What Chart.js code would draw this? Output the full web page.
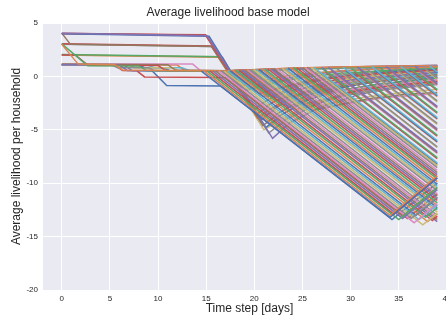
<!DOCTYPE html>
<html>
<head>
<meta charset="utf-8">
<script src="https://cdn.jsdelivr.net/npm/chart.js@4"></script>
<style>
  html, body { margin: 0; padding: 0; background: #fff; overflow: hidden; }
  canvas { display: block; }
</style>
</head>
<body>
<canvas id="myChart" width="462" height="320"></canvas>
<script>
// axis ticks
const xTicks = [0, 5, 10, 15, 20, 25, 30, 35, 40];
const yTicks = [-20, -15, -10, -5, 0, 5];
const lastDay = 39;

// households starting at 4, 3 or 2: [x, y, x, y, ...]
const highStart = [
  [0, 4.05, 15.1, 3.8, 21.9, -5.8, 23.6, -4.4, 26.5, -3.0, 30.5, -1.8, 35, -0.9, 39, -0.4],
  [0, 4.0, 15.3, 3.75, 21.2, -4.8, 22.8, -3.6, 25.5, -2.2, 29.5, -1.0, 34, -0.2, 39, 0.3],
  [0, 4.05, 15.0, 3.85, 20.7, -4.1, 22.3, -2.9, 25, -1.6, 29, -0.5, 34, 0.2, 39, 0.6],
  [0, 4.0, 14.9, 3.9, 20.3, -3.5, 21.8, -2.5, 24.5, -1.3, 28.5, -0.3, 33, 0.35, 39, 0.75],
  [0, 4.05, 0.9, 3.0, 15.6, 2.8, 20.9, -4.6, 22.6, -3.4, 25.5, -2.0, 29.5, -0.9, 34, -0.1, 39, 0.4],
  [0, 3.05, 15.5, 2.85, 20.4, -3.9, 22.1, -2.8, 24.8, -1.6, 28.8, -0.5, 33.5, 0.2, 39, 0.6],
  [0, 3.0, 15.8, 2.8, 21.5, -5.3, 23.2, -4.1, 26.2, -2.7, 30.2, -1.5, 35, -0.6, 39, -0.1],
  [0, 2.05, 16.5, 1.85, 19.8, -3.2, 21.4, -2.2, 24, -1.1, 28, -0.1, 33, 0.5, 39, 0.8],
  [0, 2.0, 16.7, 1.8, 20.3, -3.9, 22, -2.9, 25, -1.7, 29, -0.7, 34, 0.0, 39, 0.4],
  [0, 2.0, 16.2, 1.85, 21.0, -5.0, 22.8, -4.0, 26, -2.6, 30, -1.4, 35, -0.5, 39, 0.0]
];
const highColors = ["#8172B3", "#4C72B0", "#C44E52", "#C44E52", "#937860",
                    "#C44E52", "#8C8C8C", "#55A868", "#DD8452", "#CCB974"];

// households around 1 that step down and stay near the top
const stepLines = [
  [0, 3.0, 1.7, 1.15, 5.5, 1.1, 6.3, 0.6, 17, 0.5, 20, 0.62, 24, 0.78, 30, 0.9, 39, 1.02],
  [0, 3.05, 2.7, 1.0, 8, 0.98, 8.8, 0.55, 17, 0.48, 20, 0.58, 24, 0.72, 30, 0.84, 39, 0.95],
  [0, 2.0, 1.4, 2.0, 2.7, 1.05, 10, 1.02, 10.8, 0.55, 17, 0.5, 21, 0.64, 25, 0.76, 31, 0.88, 39, 0.98],
  [0, 1.1, 6, 1.06, 6.8, 0.56, 17, 0.5, 20, 0.6, 24, 0.74, 30, 0.87, 39, 1.05],
  [0, 1.15, 11, 1.1, 11.8, 0.6, 17, 0.52, 21, 0.66, 26, 0.8, 32, 0.92, 39, 1.0],
  [0, 1.15, 13.6, 1.15, 14.4, 0.55, 17, 0.5, 22, 0.66, 28, 0.8, 34, 0.88, 39, 0.92],
  [0, 1.1, 5.2, 1.06, 5.8, 0.82, 9, 0.8, 9.7, 0.5, 17, 0.48, 20, 0.56, 25, 0.7, 31, 0.8, 39, 0.88],
  [0, 1.1, 7, 1.06, 7.6, 0.82, 11.5, 0.8, 12.2, 0.52, 17, 0.5, 21, 0.6, 26, 0.72, 32, 0.82, 39, 0.9],
  [0, 1.1, 9, 1.05, 9.6, 0.82, 12.5, 0.8, 13.2, 0.55, 17, 0.5, 20.5, 0.58, 25, 0.68, 31, 0.78, 39, 0.85],
  [0, 1.12, 8, 1.08, 8.6, 0.82, 10.5, 0.8, 11.2, 0.55, 17, 0.5, 21, 0.62, 26, 0.75, 33, 0.85, 39, 0.94],
  [0, 1.1, 12, 1.06, 12.7, 0.58, 17, 0.52, 21, 0.6, 25, 0.7, 31, 0.8, 39, 0.86]
];

// two households that dip early
const redDip = [0, 1.1, 5.5, 1.06, 6.3, 0.56, 7.8, 0.52, 8.6, -0.05, 17, -0.1, 35.9, -13.3, 39, -11.0];
const blueDip = [0, 1.1, 6.5, 1.05, 7.3, 0.55, 9.4, 0.5, 10.9, -0.85, 16.5, -0.9, 34.3, -13.4, 39, -10.0];

// early decliners that bottom out and turn: [start day, start value, bottom day, bottom value, value at day 39]
const vLines = [
  [14.5, 0.5, 34.1, -13.2, -9.5],
  [14.8, 0.5, 34.1, -13.0, -9.3],
  [15.1, 0.5, 35.0, -13.4, -10.4],
  [15.4, 0.5, 34.5, -12.9, -9.5],
  [15.7, 0.5, 35.4, -13.3, -10.6],
  [16.0, 0.5, 35.4, -13.1, -10.4],
  [16.3, 0.5, 36.6, -13.7, -11.9],
  [16.6, 0.5, 36.3, -13.3, -11.3],
  [16.9, 0.5, 37.5, -13.9, -12.8],
  [17.2, 0.52, 37.1, -13.4, -12.0],
  [17.5, 0.53, 36.8, -13.0, -11.35],
  [17.8, 0.55, 38.0, -13.6, -12.85],
  [18.1, 0.56, 37.8, -13.2, -12.3],
  [18.4, 0.57, 38.5, -13.5, -13.1]
];

// later decliners: [start day, start value, value at day 39]
const dropLines = [
  [18.75, 0.58, -13.6], [19.0, 0.59, -13.4], [19.3, 0.6, -13.2], [19.6, 0.61, -13.0],
  [19.9, 0.63, -12.7], [20.2, 0.64, -12.5], [20.5, 0.65, -12.3], [20.8, 0.66, -12.1],
  [21.1, 0.68, -11.85], [21.4, 0.69, -11.6], [21.7, 0.7, -11.4], [22.0, 0.71, -11.2],
  [22.3, 0.72, -11.0], [22.6, 0.74, -10.7], [22.9, 0.75, -10.5], [23.2, 0.76, -10.3],
  [23.5, 0.77, -10.1], [23.8, 0.79, -9.85], [24.1, 0.8, -9.6], [24.4, 0.8, -9.4],
  [24.7, 0.81, -9.2], [25.0, 0.81, -9.0], [25.3, 0.82, -8.8], [25.6, 0.82, -8.55],
  [25.9, 0.82, -8.35], [26.2, 0.83, -8.1], [26.5, 0.53, -8.2], [26.8, 0.24, -8.3],
  [27.1, 0.69, -7.6], [27.4, 0.4, -7.7], [27.7, 0.85, -7.05], [28.0, 0.55, -7.15],
  [28.3, 0.26, -7.2], [28.6, 0.71, -6.6], [28.9, 0.42, -6.65], [29.2, 0.87, -6.0],
  [29.5, 0.57, -6.1], [29.8, 0.28, -6.15], [30.1, 0.73, -5.5], [30.4, 0.43, -5.6],
  [30.7, 0.89, -4.9], [31.0, 0.59, -5.0], [31.3, 0.3, -5.1], [31.6, 0.75, -4.4],
  [31.9, 0.45, -4.5], [32.2, 0.91, -3.85], [32.5, 0.61, -3.94], [32.8, 0.31, -4.0],
  [33.1, 0.77, -3.36], [33.4, 0.47, -3.45], [33.7, 0.92, -2.8], [34.0, 0.63, -2.87],
  [34.3, 0.33, -2.96], [34.6, 0.78, -2.3], [34.9, 0.49, -2.38], [35.2, 0.94, -1.72],
  [35.5, 0.64, -1.81], [35.8, 0.35, -1.89], [36.1, 0.8, -1.23], [36.4, 0.5, -1.32],
  [36.7, 0.96, -0.65], [37.0, 0.66, -0.74], [37.3, 0.36, -0.83], [37.6, 0.82, -0.16],
  [37.9, 0.52, -0.25], [38.2, 0.97, 0.41], [38.5, 0.68, 0.33]
];

// households that dip and recover toward the top: [x, y, x, y, ...]
const recoverLines = [
  [16.8, 0.5, 18.8, -0.9, 21, -0.35, 24, 0.15, 28, 0.45, 33, 0.7, 39, 0.9],
  [17.2, 0.5, 19.6, -1.2, 22, -0.6, 25, -0.1, 29, 0.3, 34, 0.55, 39, 0.78],
  [17.6, 0.5, 20.5, -1.6, 23, -1.0, 26, -0.45, 30, 0.05, 34.5, 0.35, 39, 0.6],
  [18.0, 0.52, 21.4, -1.9, 24, -1.3, 27, -0.75, 31, -0.25, 35, 0.1, 39, 0.4],
  [18.5, 0.55, 22.3, -2.2, 25, -1.6, 28, -1.05, 32, -0.55, 35.5, -0.2, 39, 0.15],
  [19.0, 0.56, 23.2, -2.5, 26, -1.9, 29, -1.35, 33, -0.85, 39, -0.3],
  [19.5, 0.58, 24.1, -2.8, 27, -2.2, 30, -1.7, 34, -1.2, 39, -0.75],
  [20.0, 0.6, 25, -3.1, 28, -2.5, 31.5, -1.95, 35, -1.55, 39, -1.2],
  [21, 0.65, 24.5, -1.8, 27, -1.2, 30, -0.7, 34, -0.3, 39, 0.05],
  [22, 0.7, 25.5, -1.75, 28, -1.2, 31, -0.7, 35, -0.3, 39, 0.0],
  [23, 0.75, 26, -1.35, 29, -0.85, 32, -0.45, 36, -0.1, 39, 0.1],
  [24, 0.8, 27.5, -1.65, 30, -1.15, 33, -0.75, 39, -0.2],
  [25.5, 0.82, 29, -1.6, 32, -1.1, 35, -0.75, 39, -0.45],
  [27, 0.84, 30.5, -1.6, 33, -1.2, 36, -0.9, 39, -0.7],
  [20.5, 0.62, 26, -3.2, 29, -2.6, 32, -2.1, 35.5, -1.7, 39, -1.5],
  [21.5, 0.68, 27, -3.0, 30, -2.5, 33.5, -2.0, 39, -1.6],
  [17.4, 0.5, 20.9, -1.9, 22.5, -1.2, 25, -0.5, 29, 0.15, 34, 0.55, 39, 0.8],
  [17.8, 0.5, 21.8, -2.3, 23.5, -1.6, 26, -0.9, 30, -0.2, 34.5, 0.25, 39, 0.55],
  [18.2, 0.52, 22.7, -2.6, 24.5, -1.9, 27, -1.2, 31, -0.5, 35, -0.05, 39, 0.25],
  [18.7, 0.55, 23.6, -2.9, 25.5, -2.2, 28, -1.5, 32, -0.85, 35.5, -0.45, 39, -0.15],
  [19.2, 0.57, 24.4, -3.1, 26.5, -2.4, 29, -1.8, 33, -1.2, 39, -0.6],
  [19.8, 0.6, 24.0, -2.4, 26, -1.6, 29, -0.8, 33, -0.2, 39, 0.35],
  [20.3, 0.62, 25.5, -3.0, 27.5, -2.2, 30, -1.5, 34, -0.9, 39, -0.5],
  [16.6, 0.5, 19.2, -1.3, 21, -0.6, 24, -0.05, 28, 0.4, 33, 0.75, 39, 0.95],
  [21.8, 0.7, 25.0, -1.55, 27, -0.8, 30, -0.2, 34, 0.25, 39, 0.55],
  [23.5, 0.78, 26.5, -1.3, 28.5, -0.7, 31.5, -0.15, 35, 0.2, 39, 0.45],
  [25, 0.82, 28, -1.3, 30, -0.8, 33, -0.35, 39, 0.15],
  [26, 0.83, 29.5, -1.6, 31.5, -1.1, 34.5, -0.7, 39, -0.4],
  [18.4, 0.54, 20.8, -1.1, 22.5, -0.4, 25.5, 0.2, 30, 0.6, 39, 0.95],
  [19.4, 0.58, 22.5, -1.6, 24.5, -0.8, 27.5, -0.15, 32, 0.35, 39, 0.7]
];

const palette = ["#4C72B0", "#DD8452", "#55A868", "#C44E52", "#8172B3",
                 "#937860", "#DA8BC3", "#8C8C8C", "#CCB974", "#64B5CD"];
const textColor = "#262626";
Chart.defaults.font.family = "'Liberation Sans', Arial, sans-serif";

function pairs(flat) {
  const pts = [];
  for (let i = 0; i < flat.length; i += 2) {
    pts.push({ x: flat[i], y: flat[i + 1] });
  }
  return pts;
}

let datasets = [];
let n = 0;
function addLine(flat, color) {
  datasets.push({
    data: pairs(flat),
    borderColor: color || palette[n % palette.length],
    borderWidth: 1.5,
    pointRadius: 0,
    fill: false,
    tension: 0,
  });
  n++;
}

for (let v of vLines) addLine([v[0], v[1], v[2], v[3], lastDay, v[4]]);
for (let d of dropLines) addLine([d[0], d[1], lastDay, d[2]]);
for (let r of recoverLines) addLine(r);
for (let s of stepLines) addLine(s);
addLine(redDip, "#C44E52");
addLine(blueDip, "#4C72B0");
highStart.forEach((h, i) => addLine(h, highColors[i]));

const plotBg = {
  id: "plotBg",
  beforeDraw(chart) {
    const { ctx, chartArea: a } = chart;
    ctx.save();
    ctx.fillStyle = "#ffffff";
    ctx.fillRect(0, 0, chart.width, chart.height);
    ctx.fillStyle = "#EAEAF2";
    ctx.fillRect(a.left, a.top, a.right - a.left, a.bottom - a.top);
    ctx.restore();
  },
};

const chart1 = document.getElementById("myChart");
new Chart(chart1, {
  type: "line",
  data: { datasets: datasets },
  options: {
    responsive: false,
    animation: false,
    layout: { padding: { left: 0, right: 6, top: 0, bottom: 0 } },
    plugins: {
      legend: { display: false },
      tooltip: { enabled: false },
      title: {
        display: true,
        text: "Average livelihood base model",
        color: textColor,
        font: { size: 12, weight: "normal" },
        padding: { top: 5, bottom: 3.6 },
      },
    },
    scales: {
      x: {
        type: "linear",
        min: -1.95,
        max: 40.95,
        afterBuildTicks: (scale) => {
          scale.ticks = xTicks.map((v) => ({ value: v }));
        },
        afterFit: (scale) => {
          scale.height = 30;
        },
        grid: { color: "#ffffff", lineWidth: 1, drawTicks: false },
        border: { display: false },
        ticks: { padding: 4, color: textColor, font: { size: 8 }, maxRotation: 0 },
        title: {
          display: true,
          text: "Time step [days]",
          color: textColor,
          font: { size: 12 },
          padding: { top: 0, bottom: 4.5 },
        },
      },
      y: {
        type: "linear",
        min: -20,
        max: 5,
        afterBuildTicks: (scale) => {
          scale.ticks = yTicks.map((v) => ({ value: v }));
        },
        afterFit: (scale) => {
          scale.width = 43;
        },
        grid: { color: "#ffffff", lineWidth: 1, drawTicks: false },
        border: { display: false },
        ticks: { padding: 5, color: textColor, font: { size: 8 } },
        title: {
          display: true,
          text: "Average livelihood per household",
          color: textColor,
          font: { size: 12 },
          padding: { top: 9.8, bottom: 0 },
        },
      },
    },
  },
  plugins: [plotBg],
});
</script>
</body>
</html>
